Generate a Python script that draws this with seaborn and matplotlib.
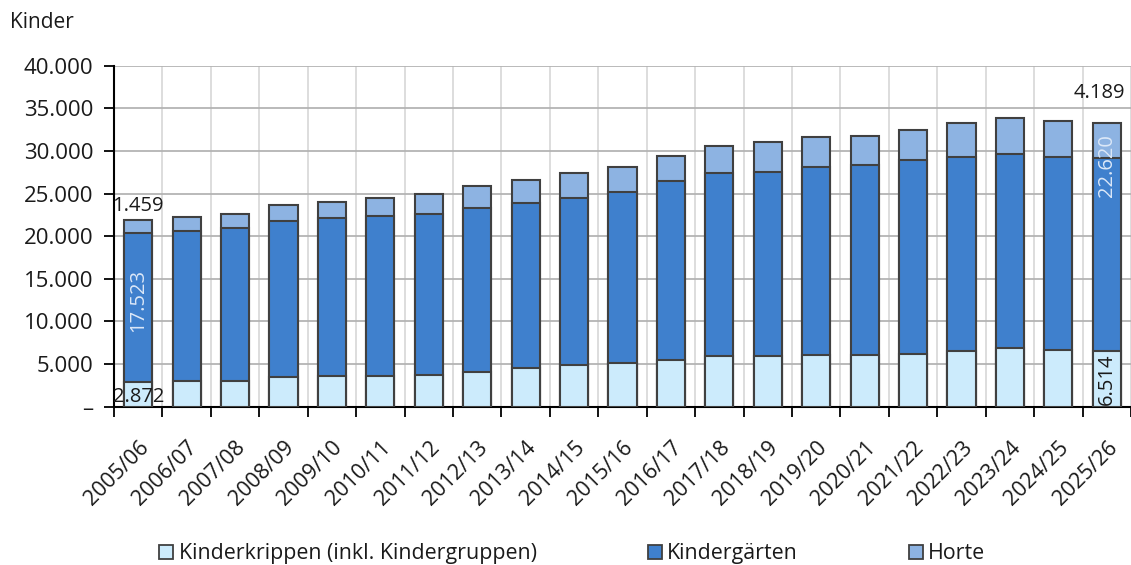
import numpy as np
import pandas as pd
import matplotlib
matplotlib.use("Agg")
import matplotlib.pyplot as plt
import seaborn as sns
from matplotlib.patches import Patch

# Schuljahre
jahre = ["2005/06", "2006/07", "2007/08", "2008/09", "2009/10", "2010/11", "2011/12",
         "2012/13", "2013/14", "2014/15", "2015/16", "2016/17", "2017/18", "2018/19",
         "2019/20", "2020/21", "2021/22", "2022/23", "2023/24", "2024/25", "2025/26"]

# Kinder je Einrichtungsart
krippen = [2872, 2950, 3020, 3410, 3530, 3600, 3720, 4040, 4550, 4860, 5090,
           5490, 5920, 5960, 6100, 6100, 6220, 6570, 6920, 6650, 6514]
kindergaerten = [17523, 17660, 17980, 18420, 18610, 18770, 18930, 19310, 19350, 19670, 20110,
                 20920, 21430, 21560, 22030, 22260, 22690, 22730, 22660, 22580, 22620]
horte = [1459, 1610, 1650, 1840, 1880, 2160, 2350, 2550, 2670, 2820, 2970,
         2980, 3250, 3500, 3480, 3370, 3600, 4030, 4300, 4300, 4189]

serien = ["Kinderkrippen (inkl. Kindergruppen)", "Kindergärten", "Horte"]
farben = ["#CCEBFC", "#3F80CD", "#8DB3E2"]
y_ticks = [0, 5000, 10000, 15000, 20000, 25000, 30000, 35000, 40000]


def fmt(v):
    return f"{v:,}".replace(",", ".")


df = pd.DataFrame({"jahr": jahre, "krippe": krippen, "kiga": kindergaerten, "hort": horte})
df["kiga_top"] = df["krippe"] + df["kiga"]
df["total"] = df["kiga_top"] + df["hort"]

sns.set_theme(style="white")
plt.rcParams["font.family"] = ["Open Sans", "DejaVu Sans"]

fig = plt.figure(figsize=(11.31, 5.65), dpi=100)
ax = fig.add_axes([0.1008, 0.2805, 0.8992, 0.6032])

# gestapelt: zuerst die Gesamthöhe, dann darüber die unteren Teile
kw = dict(width=0.58, edgecolor="#404040", linewidth=1.5, ax=ax, saturation=1, zorder=3)
sns.barplot(data=df, x="jahr", y="total", color=farben[2], **kw)
sns.barplot(data=df, x="jahr", y="kiga_top", color=farben[1], **kw)
sns.barplot(data=df, x="jahr", y="krippe", color=farben[0], **kw)

ax.set_ylim(0, 40000)
ax.set_xlim(-0.5, len(jahre) - 0.62)
ax.set_yticks(y_ticks)
ax.set_yticklabels(["–"] + [fmt(v) for v in y_ticks[1:]], fontsize=16, color="#1a1a1a")
ax.set_xticks(range(len(jahre)))
ax.set_xticklabels(jahre, rotation=45, ha="right", rotation_mode="anchor",
                   fontsize=15.5, color="#1a1a1a")
ax.set_xlabel("")
ax.set_ylabel("")

# Gitter: horizontal an den Ticks, vertikal an den Kategoriegrenzen
ax.set_xticks(np.arange(-0.5, len(jahre), 1), minor=True)
ax.yaxis.grid(True, color="#b4b4b4", linewidth=1.3, zorder=0)
ax.xaxis.grid(True, which="minor", color="#dadada", linewidth=1.3, zorder=0)
ax.xaxis.grid(False, which="major")
ax.set_axisbelow(True)
ax.tick_params(axis="x", which="major", length=0, pad=22, bottom=True)
ax.tick_params(axis="x", which="minor", length=7, width=1.3, color="black", direction="out",
               bottom=True)
ax.tick_params(axis="y", length=7, width=1.3, color="black", direction="out", pad=8, left=True)

for s in ["top", "right"]:
    ax.spines[s].set_visible(False)
for s in ["left", "bottom"]:
    ax.spines[s].set_color("black")
    ax.spines[s].set_linewidth(1.5)

# Beschriftungen am ersten und letzten Balken
first, last = 0, len(jahre) - 1
ax.annotate(fmt(horte[first]), (first, df["total"][first]), xytext=(0, 3),
            textcoords="offset points", ha="center", va="bottom", fontsize=14.5, color="#1a1a1a")
ax.text(first, krippen[first] / 2 - 300, fmt(krippen[first]), ha="center", va="center",
        fontsize=14.5, color="#1a1a1a", zorder=5)
ax.text(first, krippen[first] + kindergaerten[first] * 0.5 + 800, fmt(kindergaerten[first]),
        ha="center", va="center", rotation=90, fontsize=14.5, color="#dce8f8", zorder=5)

ax.annotate(fmt(horte[last]), (last, df["total"][last]), xytext=(-5, 14),
            textcoords="offset points", ha="center", va="bottom", fontsize=14.5, color="#1a1a1a",
            annotation_clip=False)
ax.text(last, krippen[last] / 2, fmt(krippen[last]), ha="center", va="center",
        rotation=90, fontsize=14.5, color="#1a1a1a", zorder=5)
ax.text(last, df["kiga_top"][last] - 900, fmt(kindergaerten[last]), ha="center", va="center",
        rotation=90, fontsize=14.5, color="#dce8f8", zorder=5)

fig.text(0.009, 0.96, "Kinder", fontsize=15, color="#1a1a1a", va="center")

handles = [Patch(facecolor=c, edgecolor="#404040", linewidth=1.3) for c in farben]
fig.legend(handles, serien, loc="center", bbox_to_anchor=(0.506, 0.02), ncol=3, frameon=False,
           fontsize=15.4, handlelength=0.65, handleheight=0.65, handletextpad=0.25,
           columnspacing=5.2, labelcolor="#1a1a1a")

fig.savefig("out.png", dpi=100)
